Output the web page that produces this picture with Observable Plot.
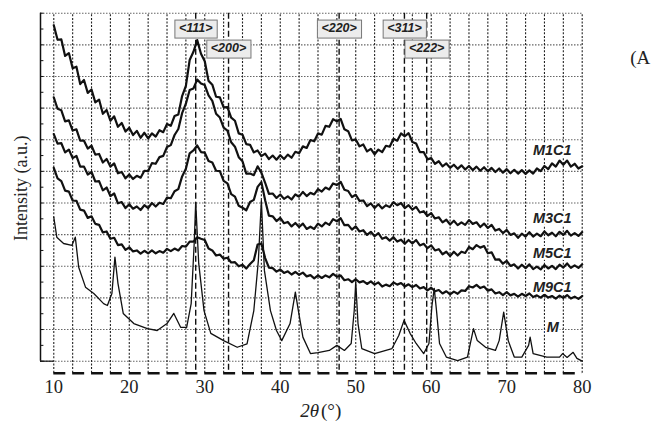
<!DOCTYPE html>
<html><head><meta charset="utf-8">
<script src="https://cdn.jsdelivr.net/npm/d3@7"></script>
<script src="https://cdn.jsdelivr.net/npm/@observablehq/plot@0.6"></script>
<style>
html,body{margin:0;padding:0;background:#fff;overflow:hidden}
#chart svg{display:block}
</style></head><body><div id="chart"></div>
<script>
// sampled series: 2θ from 10° to 80° every 0.5°
const xStart = 10, xStep = 0.5;
const m1c1 = [1062,1016,1017,965,974,926,931,876,889,848,
  859,818,827,782,794,760,774,741,753,726,
  738,715,728,706,722,704,720,710,730,724,
  750,744,775,780,838,870,952,978,1015,972,
  948,886,874,836,834,802,803,770,760,720,
  716,686,684,660,666,648,656,639,650,637,
  651,639,653,643,662,657,679,674,699,695,
  720,716,744,741,765,758,766,733,727,698,
  701,679,685,663,671,654,669,661,681,678,
  703,697,720,711,721,693,688,661,661,638,
  642,624,632,616,625,611,621,608,619,606,
  617,604,615,602,613,600,611,598,609,596,
  607,594,605,593,604,592,603,593,609,601,
  617,607,625,615,634,621,634,615,624,609,
  616];
const m3c1 = [834,798,793,758,761,729,733,697,697,672,
  681,653,655,628,639,615,625,594,598,578,
  590,576,586,580,602,601,626,624,645,649,
  677,683,715,734,784,814,857,862,890,878,
  873,840,823,782,770,738,729,692,678,645,
  632,593,593,588,616,596,564,529,530,516,
  527,513,521,511,527,520,535,522,532,527,
  544,536,549,543,562,557,567,542,538,519,
  526,507,508,490,499,484,496,483,493,487,
  503,493,500,484,493,479,488,470,474,459,
  468,451,455,439,447,432,444,430,439,431,
  446,434,439,424,435,421,431,413,418,405,
  415,399,404,390,403,394,408,394,403,395,
  410,398,406,395,409,399,412,397,405,396,
  408];
const m5c1 = [718,688,689,660,669,642,649,615,615,590,
  598,568,569,540,549,522,530,499,503,484,
  496,482,489,478,493,484,500,489,501,497,
  517,515,537,544,584,608,657,666,682,661,
  659,633,628,602,601,570,562,528,520,491,
  485,477,503,510,551,566,509,460,458,443,
  453,436,440,426,437,424,435,418,425,418,
  435,426,438,431,449,442,452,430,431,416,
  426,410,414,399,409,395,405,387,392,381,
  392,378,384,371,383,372,383,366,371,357,
  366,350,354,338,346,332,346,334,346,342,
  361,354,367,359,364,341,344,321,322,308,
  317,301,306,293,305,294,306,291,299,290,
  304,293,301,291,305,296,309,295,303,295,
  306];
const m9c1 = [611,578,569,539,536,508,507,479,476,453,
  458,434,431,407,410,387,390,367,369,352,
  360,347,350,340,349,341,350,341,348,343,
  355,348,356,350,364,362,378,378,392,387,
  383,356,350,334,337,324,327,312,313,300,
  305,293,307,319,369,372,326,296,294,283,
  290,279,284,274,282,273,280,268,272,262,
  271,263,271,265,276,267,271,256,259,250,
  259,249,253,244,252,242,249,236,242,237,
  249,242,247,236,243,234,241,230,234,224,
  232,221,225,214,221,211,220,213,224,222,
  237,233,241,231,236,223,227,214,218,209,
  218,208,213,204,213,206,214,203,208,201,
  210,201,206,198,207,200,209,198,204,197,
  206];
// pure sample M (sharp reflections)
const mX = [10.0,10.4,11.3,12.4,12.85,13.3,14.2,15.3,16.6,17.1,17.7,18.1,18.5,19.2,20.6,22.4,23.7,25.0,25.9,26.8,27.6,28.2,28.6,28.8,29.2,29.9,30.8,32.5,34.3,35.6,36.5,37.1,37.5,37.9,38.7,39.5,40.2,41.3,42.0,42.4,43.0,44.0,45.0,46.5,47.5,48.5,49.4,49.8,50.0,50.3,50.8,52.5,54.8,55.7,56.4,57.2,58.0,59.0,59.7,60.1,60.4,60.7,61.1,62.0,63.5,64.8,65.6,66.1,67.2,68.5,69.0,69.6,70.2,71.0,72.0,72.9,73.1,73.5,75.3,77.0,77.4,78.0,78.8,79.3,80.0];
const mY = [455,392,372,366,392,297,234,214,182,176,214,329,246,151,119,103,97,119,151,107,107,182,372,502,309,160,88,65,44,55,160,318,508,287,160,97,65,119,218,160,76,24,27,34,50,34,56,160,250,119,40,24,40,81,129,88,56,24,56,176,230,160,56,13,2,13,103,65,44,34,65,155,65,13,13,50,76,24,13,13,24,12,28,9,0];

const seriesNames = ["M1C1","M3C1","M5C1","M9C1","M"];
const labelX = [78.6,78.6,78.6,78.6,76.9];
const labelY = [666,451,341,233,107];

const hklLabels = ["<111>","<200>","<220>","<311>","<222>"];
const hklPos = [28.8,33.15,47.8,56.45,59.4];
const hklRow = [0,1,0,0,1];

const xTicks = [10,20,30,40,50,60,70,80];
const xDomain = [8.24,80];
const yDomain = [-38,1100];

const sampled = [m1c1,m3c1,m5c1,m9c1];
const rows = [];
sampled.forEach((arr,k)=>arr.forEach((v,i)=>rows.push({x:xStart+i*xStep,y:v,s:seriesNames[k]})));
const mRows = mX.map((x,i)=>({x,y:mY[i]}));
const labels = seriesNames.map((n,i)=>({n,x:labelX[i],y:labelY[i]}));
const hkl = hklLabels.map((t,i)=>({t,x:hklPos[i],r:hklRow[i]}));

const xGrid = d3.range(10,80.001,2.5).map(v=>({v}));
const yGrid = d3.range(0,1100.1,100).map(v=>({v}));
const yMinor = d3.range(0,1100.1,50);

const serif = "'Liberation Serif','Times New Roman',serif";
const sans = "'Liberation Sans',Arial,sans-serif";

const plot = Plot.plot({
  width:651, height:431,
  marginLeft:40, marginRight:69.3, marginTop:12.7, marginBottom:58.3,
  x:{domain:xDomain},
  y:{domain:yDomain, axis:null},
  style:{background:"#fff"},
  marks:[
    Plot.ruleY(yGrid,{y:"v",x1:xDomain[0],x2:xDomain[1],stroke:"#666",strokeOpacity:1,strokeWidth:1.1,strokeDasharray:"1.5,1.5"}),
    Plot.ruleX(xGrid,{x:"v",y1:yDomain[0],y2:yDomain[1],stroke:"#222",strokeOpacity:1,strokeWidth:1.1,strokeDasharray:"2,1.6"}),
    Plot.ruleX(hklPos,{stroke:"#111",strokeWidth:1.4,strokeDasharray:"6,3"}),
    Plot.ruleY([yDomain[0]],{x1:xTicks[0],x2:xTicks[xTicks.length-1],stroke:"#111",strokeWidth:2.6,strokeDasharray:"12,6.87"}),
    Plot.ruleX([xDomain[0]],{y1:0,y2:yDomain[1],stroke:"#111",strokeWidth:1.5}),
    Plot.ruleY([0],{x1:xDomain[0],x2:xTicks[0],stroke:"#111",strokeWidth:1.2}),
    Plot.ruleY(yMinor,{x1:xDomain[0],x2:xDomain[0]+0.45,stroke:"#111",strokeWidth:1}),
    Plot.line(rows,{x:"x",y:"y",z:"s",stroke:"#111",strokeWidth:2.2}),
    Plot.line(mRows,{x:"x",y:"y",stroke:"#111",strokeWidth:1.3}),
    Plot.text(labels,{x:"x",y:"y",text:"n",textAnchor:"end",fontFamily:sans,fontWeight:"bold",fontStyle:"italic",fontSize:14.5,fill:"#222",stroke:"white",strokeWidth:4,paintOrder:"stroke"}),
    Plot.text(hkl.filter(d=>d.r===0),{x:"x",text:"t",frameAnchor:"top",dy:9.5,fontFamily:sans,fontWeight:"bold",fontStyle:"italic",fontSize:12.5,fill:"#222",className:"hkl"}),
    Plot.text(hkl.filter(d=>d.r===1),{x:"x",text:"t",frameAnchor:"top",dy:29.5,fontFamily:sans,fontWeight:"bold",fontStyle:"italic",fontSize:12.5,fill:"#222",className:"hkl"}),
    Plot.axisX(xTicks,{tickSize:0,tickPadding:7,fontSize:18.5,fontFamily:serif,fill:"#222",label:null}),
    Plot.text(["2θ"],{x:(xTicks[0]+xTicks[xTicks.length-1])/2,frameAnchor:"bottom",dy:44,dx:1,textAnchor:"end",fontFamily:serif,fontStyle:"italic",fontSize:19,fill:"#222"}),
    Plot.text(["(°)"],{x:(xTicks[0]+xTicks[xTicks.length-1])/2,frameAnchor:"bottom",dy:44,dx:3,textAnchor:"start",fontFamily:serif,fontSize:19,fill:"#222"}),
    Plot.text(["Intensity (a.u.)"],{frameAnchor:"left",textAnchor:"middle",dx:-19,dy:-5,rotate:-90,fontFamily:serif,fontSize:18,fill:"#222"}),
    Plot.text(["(A"],{frameAnchor:"top-right",dx:68,dy:37,textAnchor:"end",fontFamily:serif,fontSize:19,fill:"#222"})
  ]
});
document.getElementById("chart").appendChild(plot);
// boxes behind the reflection labels
d3.select(plot).selectAll("g.hkl text").each(function(){
  const b = this.getBBox();
  const g = d3.select(this.parentNode);
  const r = g.insert("rect",":first-child")
    .attr("x",b.x-4).attr("y",b.y-0.5).attr("width",b.width+8).attr("height",b.height+4)
    .attr("fill","#ececec").attr("stroke","#777").attr("stroke-width",1);
  const t = this.getAttribute("transform");
  if (t) r.attr("transform",t);
});
</script></body></html>
